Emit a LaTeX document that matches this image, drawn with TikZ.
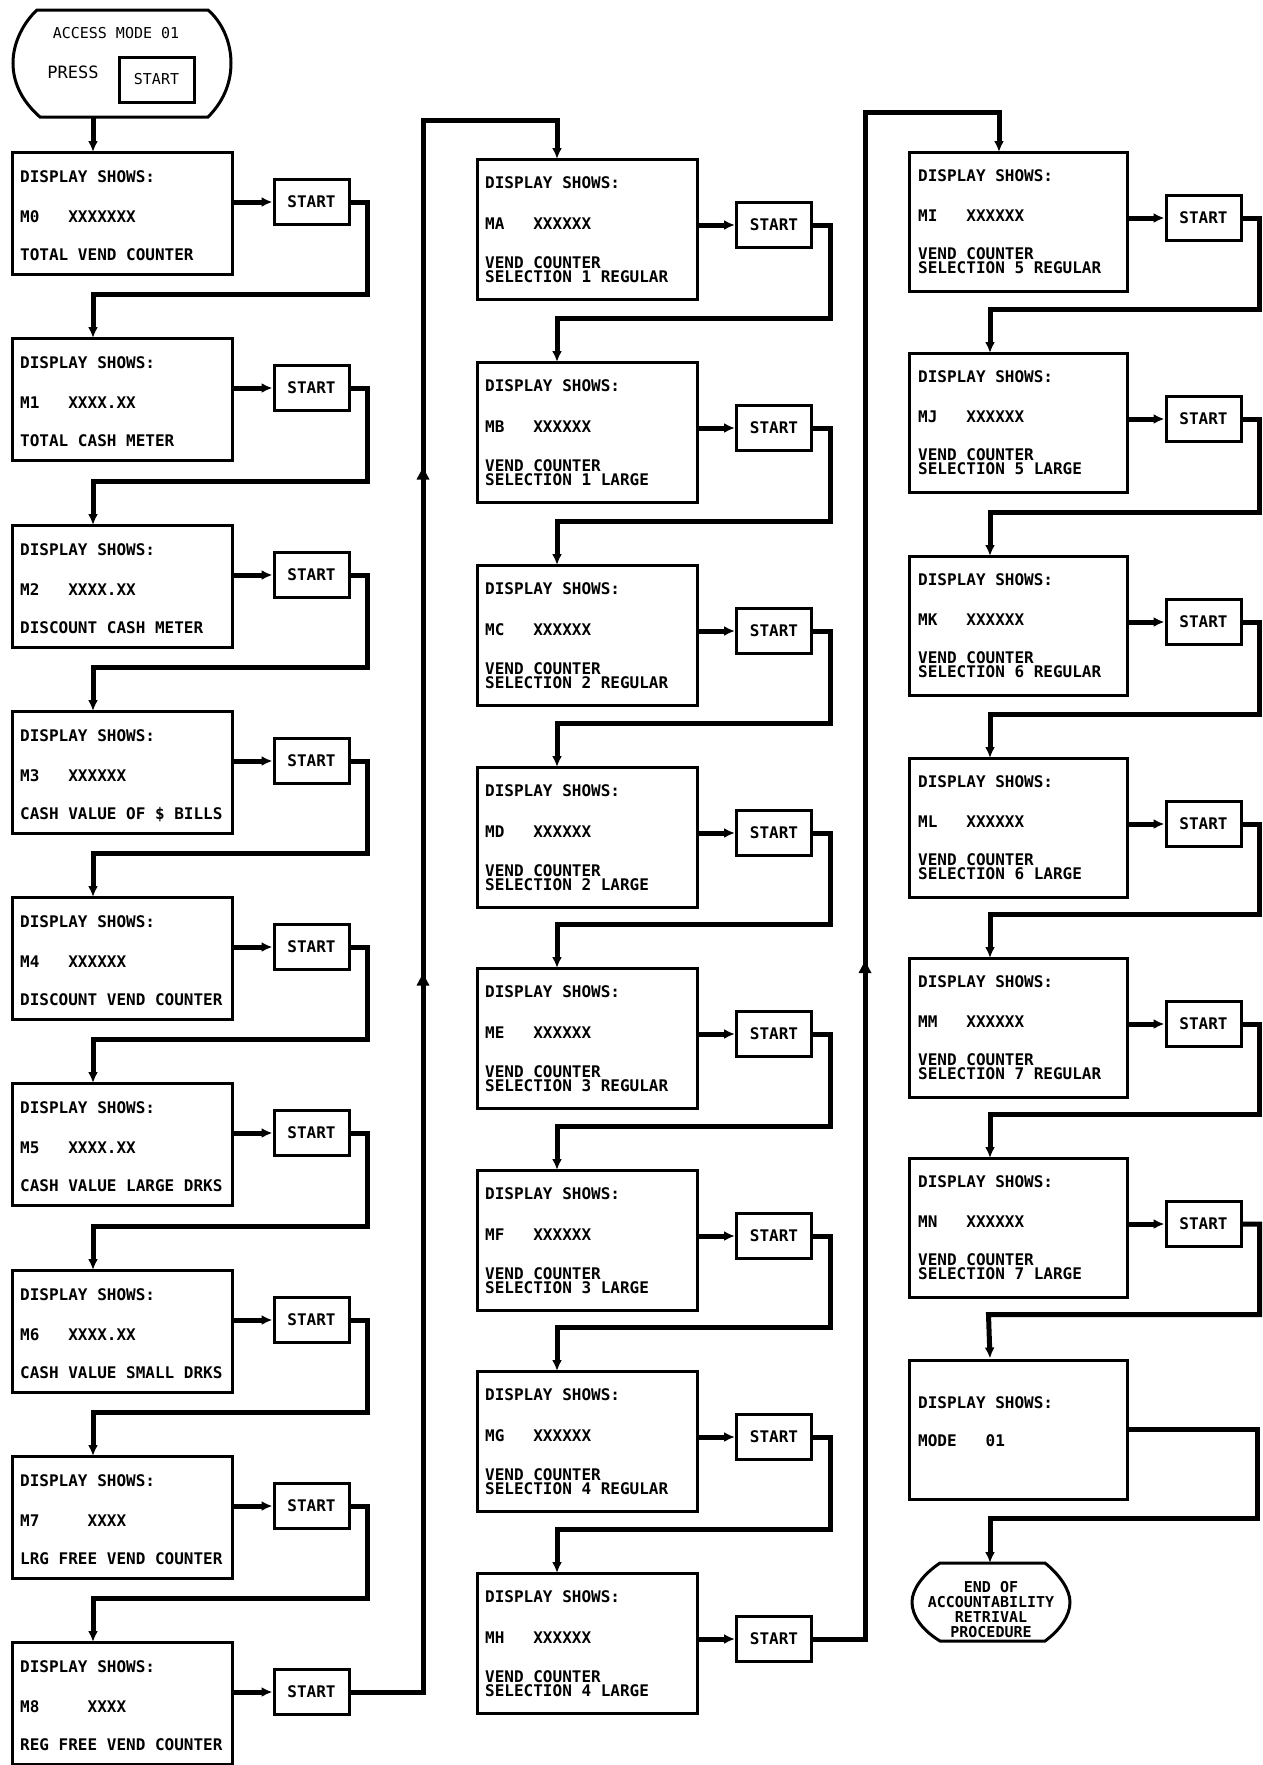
\documentclass[tikz,border=0pt]{standalone}
\usepackage{fontspec}
\newfontfamily\lett{DejaVu Sans Mono}
\usetikzlibrary{arrows.meta,calc,decorations.markings}
\newcommand{\boxA}[4]{%
 \node[dbox,minimum width=220pt,minimum height=122pt] (#1) at (122,#2+61) {};
 \node[txt] (#1t1) at (20,#2+30) {DISPLAY SHOWS:};
 \node[txt] (#1t2) at (20,#2+70) {#3};
 \node[txt] (#1t3) at (20,#2+108) {#4};
 \node[stbox] (#1s) at (311.5,#2+50) {START};
 \coordinate (#1in) at (93,#2);
}
\newcommand{\boxB}[5]{%
 \node[dbox,minimum width=220pt,minimum height=140pt] (#1) at (587,#2+70) {};
 \node[txt] (#1t1) at (485,#2+29) {DISPLAY SHOWS:};
 \node[txt] (#1t2) at (485,#2+70) {#3};
 \node[txt] (#1t3) at (485,#2+109) {#4};
 \node[txt] (#1t4) at (485,#2+123) {#5};
 \node[stbox] (#1s) at (774,#2+66) {START};
 \coordinate (#1in) at (557,#2);
}
\newcommand{\boxC}[5]{%
 \node[dbox,minimum width=218pt,minimum height=139pt] (#1) at (1018,#2+69.5) {};
 \node[txt] (#1t1) at (918,#2+29) {DISPLAY SHOWS:};
 \node[txt] (#1t2) at (918,#2+69) {#3};
 \node[txt] (#1t3) at (918,#2+107) {#4};
 \node[txt] (#1t4) at (918,#2+121) {#5};
 \node[stbox] (#1s) at (1203.5,#2+66) {START};
 \coordinate (#1in) at (990,#2);
}
\begin{document}
\begin{tikzpicture}[x=1pt,y=-1pt,
  dbox/.style={draw,line width=3pt,rectangle,inner sep=0pt},
  stbox/.style={draw,line width=3pt,rectangle,minimum width=75pt,minimum height=45pt,inner sep=0pt,font=\lett\bfseries\fontsize{16}{18}\selectfont},
  txt/.style={inner sep=0pt,anchor=base west,font=\lett\bfseries\fontsize{16}{18}\selectfont},
  conn/.style={line width=5pt},
  tip/.style={-{Latex[length=11pt,width=10pt]}},
]
\useasboundingbox[fill=white] (0,0) rectangle (1262,1765);

% start terminator
\node[inner sep=0pt,minimum width=218pt,minimum height=107pt] (term) at (122,63.5) {};
\draw[line width=3pt] (37,10) -- (208,10) .. controls (222,22) and (231,42) .. (231,63)
  .. controls (231,85) and (222,103) .. (208,117) -- (40,117)
  .. controls (24,103) and (13,85) .. (13,63) .. controls (13,42) and (24,22) .. (37,10) -- cycle;
\node[inner sep=0pt,font=\lett\fontsize{15}{17}\selectfont] (acc) at (116,33) {ACCESS MODE 01};
\node[inner sep=0pt,font=\lett\fontsize{17}{19}\selectfont] (press) at (73,72) {PRESS};
\node[draw,line width=3pt,minimum width=75pt,minimum height=45pt,inner sep=0pt,font=\lett\fontsize{15}{17}\selectfont] (pst) at (156.5,79.5) {START};

% column 1
\boxA{m0}{152}{M0\ \ \ XXXXXXX}{TOTAL VEND COUNTER}
\boxA{m1}{338}{M1\ \ \ XXXX.XX}{TOTAL CASH METER}
\boxA{m2}{525}{M2\ \ \ XXXX.XX}{DISCOUNT CASH METER}
\boxA{m3}{711}{M3\ \ \ XXXXXX}{CASH VALUE OF \$ BILLS}
\boxA{m4}{897}{M4\ \ \ XXXXXX}{DISCOUNT VEND COUNTER}
\boxA{m5}{1083}{M5\ \ \ XXXX.XX}{CASH VALUE LARGE DRKS}
\boxA{m6}{1270}{M6\ \ \ XXXX.XX}{CASH VALUE SMALL DRKS}
\boxA{m7}{1456}{M7\ \ \ \ \ XXXX}{LRG FREE VEND COUNTER}
\boxA{m8}{1642}{M8\ \ \ \ \ XXXX}{REG FREE VEND COUNTER}

% column 2
\boxB{ma}{159}{MA\ \ \ XXXXXX}{VEND COUNTER}{SELECTION 1 REGULAR}
\boxB{mb}{362}{MB\ \ \ XXXXXX}{VEND COUNTER}{SELECTION 1 LARGE}
\boxB{mc}{565}{MC\ \ \ XXXXXX}{VEND COUNTER}{SELECTION 2 REGULAR}
\boxB{md}{767}{MD\ \ \ XXXXXX}{VEND COUNTER}{SELECTION 2 LARGE}
\boxB{me}{968}{ME\ \ \ XXXXXX}{VEND COUNTER}{SELECTION 3 REGULAR}
\boxB{mf}{1170}{MF\ \ \ XXXXXX}{VEND COUNTER}{SELECTION 3 LARGE}
\boxB{mg}{1371}{MG\ \ \ XXXXXX}{VEND COUNTER}{SELECTION 4 REGULAR}
\boxB{mh}{1573}{MH\ \ \ XXXXXX}{VEND COUNTER}{SELECTION 4 LARGE}

% column 3
\boxC{mi}{152}{MI\ \ \ XXXXXX}{VEND COUNTER}{SELECTION 5 REGULAR}
\boxC{mj}{353}{MJ\ \ \ XXXXXX}{VEND COUNTER}{SELECTION 5 LARGE}
\boxC{mk}{556}{MK\ \ \ XXXXXX}{VEND COUNTER}{SELECTION 6 REGULAR}
\boxC{ml}{758}{ML\ \ \ XXXXXX}{VEND COUNTER}{SELECTION 6 LARGE}
\boxC{mm}{958}{MM\ \ \ XXXXXX}{VEND COUNTER}{SELECTION 7 REGULAR}
\boxC{mn}{1158}{MN\ \ \ XXXXXX}{VEND COUNTER}{SELECTION 7 LARGE}
\coordinate (miin) at (999,152);

% mode box
\node[dbox,minimum width=218pt,minimum height=139pt] (mode) at (1018,1429.5) {};
\node[txt] (modet1) at (918,1408) {DISPLAY SHOWS:};
\node[txt] (modet2) at (918,1446) {MODE\ \ \ 01};

% end terminator
\coordinate (endin) at (990,1563);
\draw[line width=3pt] (940,1563) -- (1045,1563) .. controls (1060,1575) and (1070,1590) .. (1070,1602)
  .. controls (1070,1616) and (1060,1630) .. (1045,1641) -- (940,1641)
  .. controls (922,1630) and (912,1616) .. (912,1602) .. controls (912,1590) and (922,1575) .. (940,1563) -- cycle;
\node[inner sep=0pt,align=center,font=\lett\bfseries\fontsize{15}{15}\selectfont] (endt) at (991,1610) {END OF\\ACCOUNTABILITY\\RETRIVAL\\PROCEDURE};

% connectors: terminator to M0
\draw[conn,tip] (m0in |- term.south) -- (m0in);

% box -> START arrows
\foreach \b in {m0,m1,m2,m3,m4,m5,m6,m7,m8,ma,mb,mc,md,me,mf,mg,mh,mi,mj,mk,ml,mm,mn}
  \draw[conn,tip] (\b.east |- \b s.west) -- (\b s.west);

% START -> next box
\foreach \a/\b in {m0/m1,m1/m2,m2/m3,m3/m4,m4/m5,m5/m6,m6/m7,m7/m8,ma/mb,mb/mc,mc/md,md/me,me/mf,mf/mg,mg/mh,mi/mj,mj/mk,mk/ml,ml/mm,mm/mn}
  \draw[conn,tip] (\a s.east) -- ++(17,0) |- ($(\b in)+(0,-44)$) -- (\b in);
\draw[conn,tip] (mns.east) -- ++(17,0) |- ($(mode.north west)+(81,-44)$) -- (mode.north west -| endin);

% column buses with mid arrows
\coordinate (bus1) at (423,120);
\draw[conn,tip,postaction={decorate},decoration={markings,
   mark=at position 785pt with {\fill (6,0) -- (-6,6.5) -- (-6,-6.5) -- cycle;},
   mark=at position 1291pt with {\fill (6,0) -- (-6,6.5) -- (-6,-6.5) -- cycle;}}]
   (m8s.east) -| (bus1) -| (main);
\coordinate (bus2) at (865,112);
\draw[conn,tip,postaction={decorate},decoration={markings,
   mark=at position 724pt with {\fill (6,0) -- (-6,6.5) -- (-6,-6.5) -- cycle;}}]
   (mhs.east) -| (bus2) -| (miin);

% mode -> end
\coordinate (modeturn) at (1257,1518);
\draw[conn,tip] (mode.east) -| (modeturn) -| (endin);
\end{tikzpicture}
\end{document}
